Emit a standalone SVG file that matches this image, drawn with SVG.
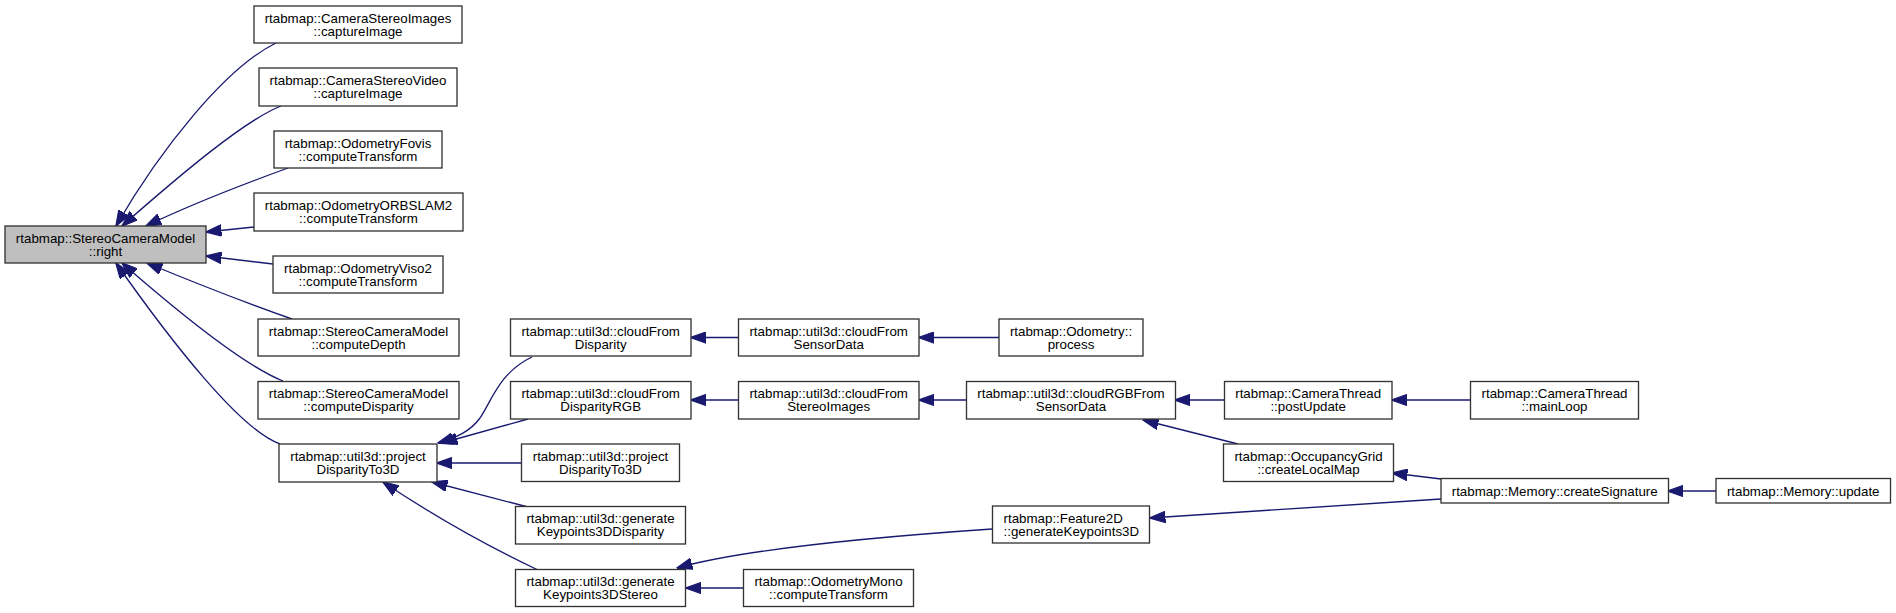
<svg xmlns="http://www.w3.org/2000/svg" width="1896" height="613" viewBox="0 0 1896 613">
<style>
.n rect{fill:#ffffff;stroke:#333333;stroke-width:1.33}
.n.g rect{fill:#bfbfbf}
.n text{font-family:"Liberation Sans",Arial,Helvetica,sans-serif;font-size:13.33px;fill:#000000;text-anchor:middle}
.n text.l{text-anchor:start}
.e path{fill:none;stroke:#191970;stroke-width:1.33;marker-end:url(#ah)}
</style>
<defs>
<marker id="ah" markerUnits="userSpaceOnUse" markerWidth="16" markerHeight="12" viewBox="0 0 14 10" refX="13.5" refY="5" orient="auto">
<path d="M0,0 L14,5 L0,10 z" fill="#191970" stroke="#191970" stroke-width="1"/>
</marker>
</defs>
<rect width="1896" height="613" fill="#ffffff"/>
<g id="edges" class="e">
<path d="M276,43 C225,68 160,150 116,226"/>
<path d="M281,106 C245,120 180,175 122,226"/>
<path d="M288,168 C255,180 200,200 146,226"/>
<path d="M254,227 L206,232"/>
<path d="M273,264 L206,256"/>
<path d="M292,319 C255,306 200,285 147,263"/>
<path d="M283,381 C245,366 185,318 122,263"/>
<path d="M280,444 C240,430 170,340 116,263"/>
<path d="M532,357 C500,372 492,400 480,418 C470,432 455,438 438,443"/>
<path d="M528,419 L442,443"/>
<path d="M522,463 L437,463"/>
<path d="M528,507 L432,482"/>
<path d="M538,570 C500,552 440,520 383,482"/>
<path d="M738,337.5 L691,337.5"/>
<path d="M999,337.5 L919,337.5"/>
<path d="M738,400 L691,400"/>
<path d="M966,400 L919,400"/>
<path d="M1224,400 L1175,400"/>
<path d="M1238,444 L1143,420"/>
<path d="M1470,400 L1392,400"/>
<path d="M1441,479 L1392,473"/>
<path d="M1716,491 L1668,491"/>
<path d="M992,529 C860,538 740,550 677,568"/>
<path d="M743,588 L686,588"/>
<path d="M1441,499 L1150,518"/>
</g>
<g id="n_right" class="n g"><rect x="5" y="226" width="201" height="37"/><text x="105.5" y="242.5">rtabmap::StereoCameraModel</text><text x="105.5" y="255.5">::right</text></g>
<g id="n_csi" class="n"><rect x="254" y="6" width="208" height="37"/><text x="358" y="22.5">rtabmap::CameraStereoImages</text><text x="358" y="35.5">::captureImage</text></g>
<g id="n_csv" class="n"><rect x="259" y="68" width="198" height="38"/><text x="358" y="84.5">rtabmap::CameraStereoVideo</text><text x="358" y="97.5">::captureImage</text></g>
<g id="n_fovis" class="n"><rect x="274" y="131" width="168" height="37"/><text x="358" y="147.5">rtabmap::OdometryFovis</text><text x="358" y="160.5">::computeTransform</text></g>
<g id="n_orb" class="n"><rect x="254" y="193" width="209" height="38"/><text x="358.5" y="209.5">rtabmap::OdometryORBSLAM2</text><text x="358.5" y="222.5">::computeTransform</text></g>
<g id="n_viso" class="n"><rect x="273" y="256" width="170" height="37"/><text x="358" y="272.5">rtabmap::OdometryViso2</text><text x="358" y="285.5">::computeTransform</text></g>
<g id="n_depth" class="n"><rect x="258" y="319" width="201" height="37"/><text x="358.5" y="335.5">rtabmap::StereoCameraModel</text><text x="358.5" y="348.5">::computeDepth</text></g>
<g id="n_disp" class="n"><rect x="258" y="381.5" width="201" height="37.5"/><text x="358.5" y="398">rtabmap::StereoCameraModel</text><text x="358.5" y="411">::computeDisparity</text></g>
<g id="n_pd3d" class="n"><rect x="279" y="444" width="158" height="38"/><text x="358" y="460.5">rtabmap::util3d::project</text><text x="358" y="473.5">DisparityTo3D</text></g>
<g id="n_cfd" class="n"><rect x="510.5" y="319" width="180.5" height="37"/><text x="600.7" y="335.5">rtabmap::util3d::cloudFrom</text><text x="600.7" y="348.5">Disparity</text></g>
<g id="n_cfdrgb" class="n"><rect x="510.5" y="381.5" width="180.5" height="37.5"/><text x="600.7" y="398">rtabmap::util3d::cloudFrom</text><text x="600.7" y="411">DisparityRGB</text></g>
<g id="n_pd3d2" class="n"><rect x="521.5" y="444" width="158" height="37.5"/><text x="600.5" y="460.5">rtabmap::util3d::project</text><text x="600.5" y="473.5">DisparityTo3D</text></g>
<g id="n_gk3dd" class="n"><rect x="515.5" y="506.5" width="170" height="37.5"/><text x="600.5" y="523">rtabmap::util3d::generate</text><text x="600.5" y="536">Keypoints3DDisparity</text></g>
<g id="n_gk3ds" class="n"><rect x="515.5" y="569.5" width="170" height="37"/><text x="600.5" y="586">rtabmap::util3d::generate</text><text x="600.5" y="599">Keypoints3DStereo</text></g>
<g id="n_cfsd" class="n"><rect x="738.5" y="319" width="180.5" height="37"/><text x="828.7" y="335.5">rtabmap::util3d::cloudFrom</text><text x="828.7" y="348.5">SensorData</text></g>
<g id="n_cfsi" class="n"><rect x="738.5" y="381.5" width="180.5" height="37.5"/><text x="828.7" y="398">rtabmap::util3d::cloudFrom</text><text x="828.7" y="411">StereoImages</text></g>
<g id="n_omono" class="n"><rect x="743.5" y="569.5" width="170" height="37"/><text x="828.5" y="586">rtabmap::OdometryMono</text><text x="828.5" y="599">::computeTransform</text></g>
<g id="n_oproc" class="n"><rect x="999" y="319" width="144" height="37"/><text x="1071" y="335.5">rtabmap::Odometry::</text><text x="1071" y="348.5">process</text></g>
<g id="n_crgb" class="n"><rect x="966.5" y="381.5" width="209" height="37.5"/><text x="1071" y="398">rtabmap::util3d::cloudRGBFrom</text><text x="1071" y="411">SensorData</text></g>
<g id="n_f2d" class="n"><rect x="992.5" y="506" width="157" height="37"/><text class="l" x="1003.5" y="522.5">rtabmap::Feature2D</text><text class="l" x="1003.5" y="535.5">::generateKeypoints3D</text></g>
<g id="n_post" class="n"><rect x="1224.5" y="381.5" width="167.5" height="37.5"/><text x="1308.2" y="398">rtabmap::CameraThread</text><text x="1308.2" y="411">::postUpdate</text></g>
<g id="n_olm" class="n"><rect x="1223.5" y="444" width="170" height="37.5"/><text x="1308.5" y="460.5">rtabmap::OccupancyGrid</text><text x="1308.5" y="473.5">::createLocalMap</text></g>
<g id="n_main" class="n"><rect x="1470.5" y="381.5" width="168" height="37.5"/><text x="1554.5" y="398">rtabmap::CameraThread</text><text x="1554.5" y="411">::mainLoop</text></g>
<g id="n_csig" class="n"><rect x="1441" y="478.5" width="227.5" height="24.5"/><text x="1554.7" y="495.5">rtabmap::Memory::createSignature</text></g>
<g id="n_upd" class="n"><rect x="1716" y="478.5" width="174.5" height="24.5"/><text x="1803.2" y="495.5">rtabmap::Memory::update</text></g>
</svg>
